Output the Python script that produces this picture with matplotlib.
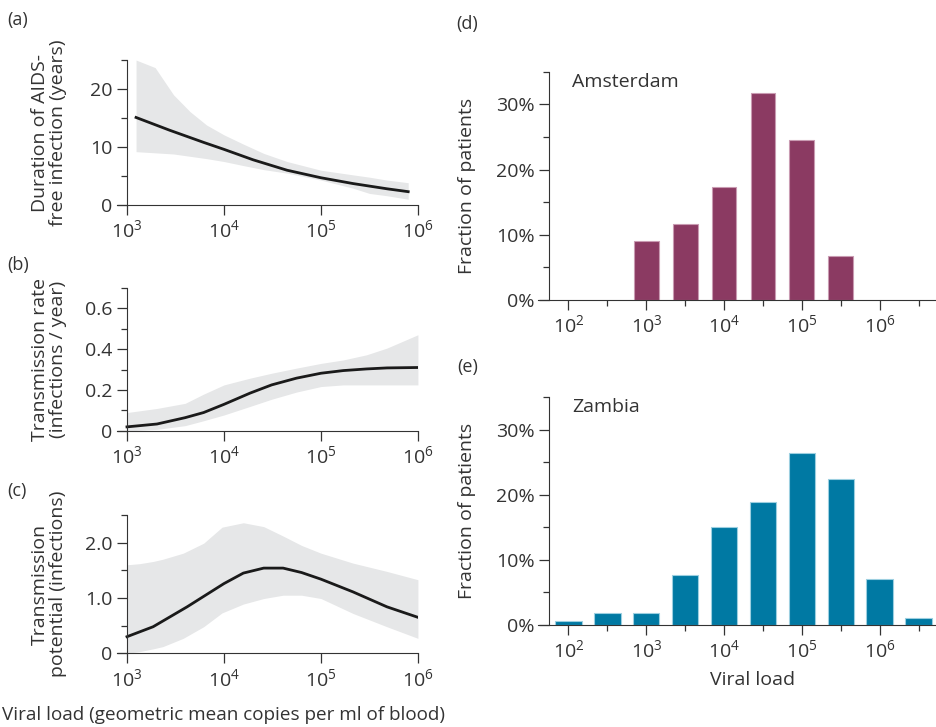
import numpy as np
import matplotlib
matplotlib.use('Agg')
import matplotlib.pyplot as plt

plt.rcParams['font.family'] = ['Open Sans', 'DejaVu Sans']
plt.rcParams['mathtext.fontset'] = 'custom'
plt.rcParams['mathtext.rm'] = 'Open Sans'
plt.rcParams['font.size'] = 13
plt.rcParams['text.color'] = '#333333'
plt.rcParams['axes.edgecolor'] = '#333333'
plt.rcParams['xtick.color'] = '#333333'
plt.rcParams['ytick.color'] = '#333333'
plt.rcParams['axes.labelcolor'] = '#333333'

# (a) duration of AIDS-free infection vs viral load
a_band_x = [1.24e3, 1.95e3, 3.02e3, 4.47e3, 6.61e3, 1e4, 1.585e4, 2.57e4, 4.47e4, 1e5, 2.14e5, 3.16e5, 4.79e5, 7.94e5]
a_hi = [25.0, 23.7, 19.0, 16.1, 13.8, 12.1, 10.5, 8.9, 7.5, 6.0, 5.2, 4.8, 4.3, 3.85]
a_lo = [9.2, 9.0, 8.8, 8.4, 8.0, 7.5, 6.8, 6.1, 5.5, 4.3, 2.9, 2.0, 1.6, 1.0]
a_line_x = [1.24e3, 2.75e3, 6.17e3, 1e4, 1.995e4, 4.47e4, 1e5, 2.14e5, 4.79e5, 7.94e5]
a_mid = [15.1, 12.9, 10.8, 9.6, 7.8, 6.0, 4.7, 3.7, 2.8, 2.3]

# (b) transmission rate
b_x = [1e3, 2.04e3, 3.98e3, 6.17e3, 1e4, 1.86e4, 3.1e4, 5.6e4, 1e5, 1.7e5, 2.95e5, 4.8e5, 1e6]
b_mid = [0.02, 0.034, 0.065, 0.09, 0.13, 0.185, 0.225, 0.258, 0.282, 0.295, 0.303, 0.308, 0.31]
b_hi = [0.09, 0.11, 0.135, 0.18, 0.225, 0.258, 0.282, 0.307, 0.33, 0.347, 0.372, 0.405, 0.47]
b_lo = [0.0, 0.008, 0.026, 0.05, 0.078, 0.12, 0.155, 0.19, 0.217, 0.225, 0.225, 0.225, 0.225]

# (c) transmission potential
c_band_x = [1e3, 1.35e3, 1.86e3, 2.34e3, 3.8e3, 6.17e3, 9.55e3, 1.585e4, 2.57e4, 4.07e4, 6.31e4, 1e5, 2.14e5, 4.79e5, 1e6]
c_hi = [1.6, 1.62, 1.66, 1.70, 1.81, 1.99, 2.28, 2.36, 2.29, 2.12, 1.95, 1.81, 1.63, 1.48, 1.33]
c_lo = [0.0, 0.03, 0.08, 0.12, 0.27, 0.48, 0.73, 0.89, 0.99, 1.05, 1.05, 0.99, 0.72, 0.48, 0.27]
c_line_x = [1e3, 1.86e3, 4.17e3, 1e4, 1.585e4, 2.57e4, 4.07e4, 6.31e4, 1e5, 2.14e5, 4.79e5, 1e6]
c_mid = [0.30, 0.48, 0.84, 1.26, 1.45, 1.54, 1.54, 1.46, 1.34, 1.11, 0.84, 0.65]

# (d), (e) distribution of viral load (log10 bins)
ams_bins = [3.0, 3.5, 4.0, 4.5, 5.0, 5.5]
ams_pct = [9.1, 11.6, 17.3, 31.8, 24.5, 6.7]
zam_bins = [2.0, 2.5, 3.0, 3.5, 4.0, 4.5, 5.0, 5.5, 6.0, 6.5]
zam_pct = [0.6, 1.85, 1.85, 7.7, 15.0, 18.9, 26.4, 22.4, 7.1, 1.1]

band = '#e6e7e8'
fig = plt.figure(figsize=(9.36, 7.27), dpi=100)


def curve_panel(rect, band_x, lo, hi, line_x, mid, ymax, major, minor, labels, ylabel):
    ax = fig.add_axes(rect)
    ax.fill_between(band_x, lo, hi, color=band, lw=0)
    ax.plot(line_x, mid, color='#1a1a1a', lw=2.0, solid_joinstyle='round')
    ax.set_xscale('log')
    ax.set_xlim(10 ** 2.897, 1e6)
    ax.set_ylim(0, ymax)
    ax.spines['left'].set_position(('data', 1e3))
    for s in ['top', 'right']:
        ax.spines[s].set_visible(False)
    ax.set_xticks([1e3, 1e4, 1e5, 1e6])
    ax.set_xticklabels([r'$\mathregular{10^{%d}}$' % i for i in range(3, 7)])
    ax.xaxis.set_minor_locator(matplotlib.ticker.NullLocator())
    ax.set_yticks(major)
    ax.set_yticklabels(labels)
    ax.set_yticks(minor, minor=True)
    ax.tick_params(axis='both', which='major', length=7, width=0.9, labelsize=14)
    ax.tick_params(axis='y', which='minor', length=4, width=0.9)
    ax.set_ylabel(ylabel, fontsize=14, linespacing=1.0)
    ax.yaxis.set_label_coords(-0.165, 0.5)
    return ax


ax_a = curve_panel([0.125, 0.718, 0.3215, 0.1994], a_band_x, a_lo, a_hi, a_line_x, a_mid, 25,
                   [0, 10, 20], [5, 15, 25], ['0', '10', '20'],
                   'Duration of AIDS-\nfree infection (years)')
ax_b = curve_panel([0.125, 0.4072, 0.3215, 0.1971], b_x, b_lo, b_hi, b_x, b_mid, 0.7,
                   [0, 0.2, 0.4, 0.6], [0.1, 0.3, 0.5, 0.7], ['0', '0.2', '0.4', '0.6'],
                   'Transmission rate\n(infections / year)')
ax_c = curve_panel([0.125, 0.1014, 0.3215, 0.1902], c_band_x, c_lo, c_hi, c_line_x, c_mid, 2.5,
                   [0, 1.0, 2.0], [0.5, 1.5, 2.5], ['0', '1.0', '2.0'],
                   'Transmission\npotential (infections)')

fig.text(0.002, 0.01, 'Viral load (geometric mean copies per ml of blood)', fontsize=13.6)


def bar_panel(rect, bins, pct, width, color, edge, title):
    ax = fig.add_axes(rect)
    ax.bar(bins, pct, width=width * 0.5, color=color, edgecolor=edge, linewidth=0.8)
    ax.set_xlim(1.61, 6.71)
    ax.set_ylim(0, 35)
    ax.spines['left'].set_position(('data', 1.75))
    for s in ['top', 'right']:
        ax.spines[s].set_visible(False)
    ax.set_xticks([2, 3, 4, 5, 6])
    ax.set_xticklabels([r'$\mathregular{10^{%d}}$' % i for i in range(2, 7)])
    ax.set_xticks([2.5, 3.5, 4.5, 5.5, 6.5], minor=True)
    ax.set_yticks([0, 10, 20, 30])
    ax.set_yticklabels(['%d%%' % v for v in [0, 10, 20, 30]])
    ax.set_yticks([5, 15, 25, 35], minor=True)
    ax.tick_params(axis='both', which='major', length=7, width=0.9, labelsize=14)
    ax.tick_params(axis='both', which='minor', length=4, width=0.9)
    ax.set_ylabel('Fraction of patients', fontsize=14)
    ax.yaxis.set_label_coords(-0.155, 0.5)
    ax.text(0.085, 0.995, title, transform=ax.transAxes, fontsize=14, va='top')
    return ax


ax_d = bar_panel([0.5748, 0.5873, 0.4241, 0.314], ams_bins, ams_pct, 0.64,
                 '#8b3a62', '#c99bb2', 'Amsterdam')
ax_e = bar_panel([0.5748, 0.1403, 0.4241, 0.3136], zam_bins, zam_pct, 0.68,
                 '#0079a3', '#9ccfe0', 'Zambia')
ax_e.set_xlabel('Viral load', fontsize=14)
ax_e.xaxis.set_label_coords(0.54, -0.2)

for lab, x, y in [('(a)', 0.008, 0.985), ('(b)', 0.008, 0.648), ('(c)', 0.008, 0.337),
                  ('(d)', 0.487, 0.98), ('(e)', 0.489, 0.507)]:
    fig.text(x, y, lab, fontsize=13, va='top')

fig.savefig('out.png', dpi=100)
